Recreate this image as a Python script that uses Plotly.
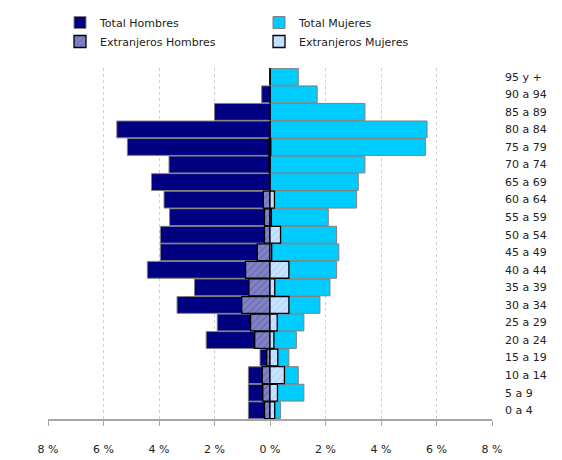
import plotly.graph_objects as go

categories = ["0 a 4", "5 a 9", "10 a 14", "15 a 19", "20 a 24", "25 a 29", "30 a 34",
              "35 a 39", "40 a 44", "45 a 49", "50 a 54", "55 a 59", "60 a 64", "65 a 69",
              "70 a 74", "75 a 79", "80 a 84", "85 a 89", "90 a 94", "95 y +"]

total_hombres = [0.78, 0.78, 0.78, 0.36, 2.30, 1.90, 3.35, 2.72, 4.42, 3.95, 3.95, 3.62,
                 3.82, 4.27, 3.64, 5.14, 5.52, 2.00, 0.30, 0.00]
total_mujeres = [0.38, 1.22, 1.02, 0.68, 0.95, 1.22, 1.80, 2.16, 2.40, 2.48, 2.40, 2.10,
                 3.12, 3.18, 3.42, 5.60, 5.66, 3.42, 1.70, 1.02]
extranjeros_hombres = [0.20, 0.26, 0.28, 0.12, 0.55, 0.70, 1.02, 0.76, 0.88, 0.46, 0.20,
                       0.20, 0.24, 0.00, 0.03, 0.04, 0.00, 0.00, 0.00, 0.00]
extranjeros_mujeres = [0.17, 0.27, 0.52, 0.28, 0.14, 0.26, 0.68, 0.17, 0.68, 0.06, 0.38,
                       0.05, 0.16, 0.00, 0.00, 0.03, 0.00, 0.00, 0.00, 0.00]

tick_vals = [-8, -6, -4, -2, 0, 2, 4, 6, 8]
tick_text = ["8 %", "6 %", "4 %", "2 %", "0 %", "2 %", "4 %", "6 %", "8 %"]

fig = go.Figure()
fig.add_trace(go.Bar(
    name="Total Hombres", y=categories, x=[-v for v in total_hombres], orientation="h",
    marker=dict(color="#000080", line=dict(color="#808080", width=1))))
fig.add_trace(go.Bar(
    name="Total Mujeres", y=categories, x=total_mujeres, orientation="h",
    marker=dict(color="#00ccff", line=dict(color="#808080", width=1))))
fig.add_trace(go.Bar(
    name="Extranjeros Hombres", y=categories, x=[-v for v in extranjeros_hombres],
    orientation="h",
    marker=dict(color="#8282c4", line=dict(color="#000000", width=1.3),
                pattern=dict(shape="/", bgcolor="#8282c4", fgcolor="#5a5aa6",
                             size=5, solidity=0.3))))
fig.add_trace(go.Bar(
    name="Extranjeros Mujeres", y=categories, x=extranjeros_mujeres, orientation="h",
    marker=dict(color="#bcdcff", line=dict(color="#000000", width=1.3),
                pattern=dict(shape="/", bgcolor="#bcdcff", fgcolor="#e8f4ff",
                             size=5, solidity=0.3))))

fig.update_layout(
    width=562, height=460,
    margin=dict(l=40, r=78, t=57, b=43),
    barmode="overlay", bargap=0.04,
    paper_bgcolor="white", plot_bgcolor="white",
    font=dict(family="DejaVu Sans", size=11, color="#222222"),
    showlegend=True,
    legend=dict(orientation="h", xref="container", yref="container",
                x=52 / 562, y=1, xanchor="left", yanchor="top",
                entrywidth=154, entrywidthmode="pixels",
                font=dict(family="DejaVu Sans", size=11, color="#222222"),
                tracegroupgap=0, itemclick=False),
    xaxis=dict(range=[-8, 8], tickvals=tick_vals, ticktext=tick_text,
               showgrid=True, gridcolor="#cfcfcf", griddash="dot", gridwidth=1,
               zeroline=False, showline=True, linecolor="#a6a6a6", linewidth=2,
               ticks="outside", ticklen=5, tickcolor="#a6a6a6", tickwidth=1,
               ticklabelstandoff=14, fixedrange=True),
    yaxis=dict(type="category", categoryorder="array", categoryarray=categories,
               side="right", showgrid=False, zeroline=False, showline=False,
               ticks="", ticklabelstandoff=12, fixedrange=True),
)

fig.write_html("out.html")
